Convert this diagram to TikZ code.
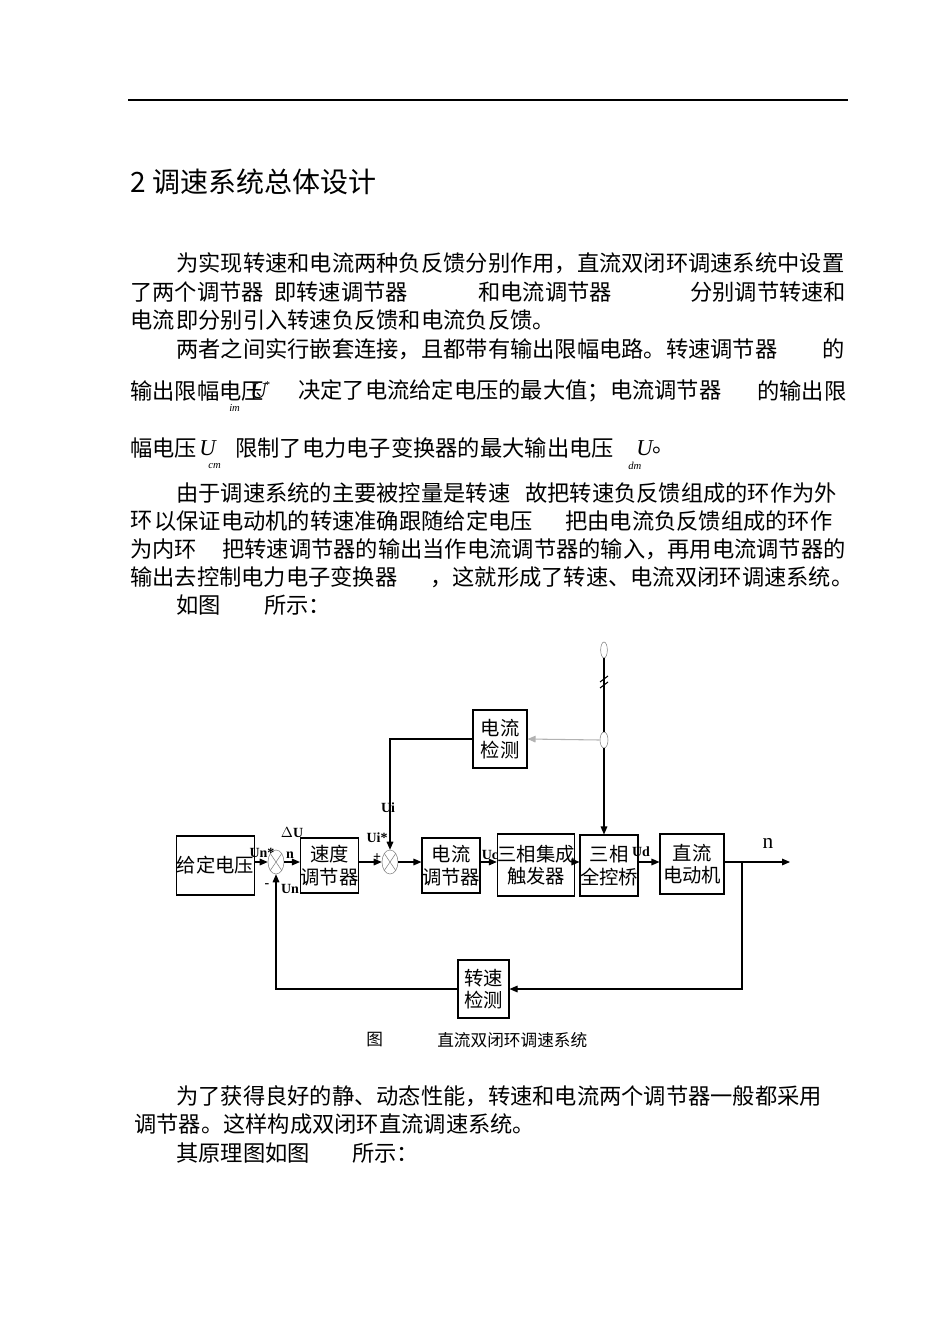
\documentclass[tikz,border=0pt]{standalone}
\usepackage{fontspec}
\setmainfont{Liberation Serif}
\newfontfamily\cjk{Noto Sans CJK SC}
\usetikzlibrary{arrows.meta,shapes.geometric}
\begin{document}
\begin{tikzpicture}[x=0.75pt,y=-0.75pt,
 txt/.style={anchor=west,inner sep=0,font=\cjk\fontsize{16.7}{20}\selectfont},
 sm/.style={anchor=west,inner sep=0,font=\rmfamily\fontsize{8}{9}\selectfont\itshape},
 blk/.style={draw,thick,inner sep=0,font=\cjk\fontsize{14.5}{17}\selectfont,align=center},
 lab/.style={inner sep=0,font=\rmfamily\bfseries\fontsize{10.5}{12}\selectfont},
 sumc/.style={draw,ellipse,minimum width=12pt,minimum height=18pt,inner sep=0,thin,gray},
 arr/.style={-{Triangle[length=6pt,width=5pt]},thick}]
\useasboundingbox (0,0) rectangle (950,1342);
\draw[thick] (128,100) -- (848,100);
\node[anchor=west,inner sep=0,font=\cjk\fontsize{21}{25}\selectfont] (title) at (130,182) {2 调速系统总体设计};
% paragraph 1
\node[txt] (p1a) at (176,263) {为实现转速和电流两种负反馈分别作用，直流双闭环调速系统中设置};
\node[txt] (p1b) at (130,292) {了两个调节器};
\node[txt] (p1c) at (274,292) {即转速调节器};
\node[txt] (p1d) at (478,292) {和电流调节器};
\node[txt] (p1e) at (690,292) {分别调节转速和};
\node[txt] (p1f) at (130,320) {电流};
\node[txt] (p1g) at (176,320) {即分别引入转速负反馈和电流负反馈。};
% paragraph 2
\node[txt] (p2a) at (176,349) {两者之间实行嵌套连接，且都带有输出限幅电路。转速调节器};
\node[txt] (p2b) at (822,349) {的};
\node[txt] (p2c) at (130,391) {输出限幅电压};
\node[anchor=west,inner sep=0,font=\rmfamily\itshape\fontsize{17}{20}\selectfont] (u1) at (250,391) {U};
\node[sm] (u1s) at (264,385) {*};
\node[sm] (u1i) at (229,408) {im};
\node[txt] (p2d) at (298,391) {决定了电流给定电压的最大值；电流调节器};
\node[txt] (p2e) at (757,391) {的输出限};
\node[txt] (p2f) at (130,448) {幅电压};
\node[anchor=west,inner sep=0,font=\rmfamily\itshape\fontsize{17}{20}\selectfont] (u2) at (199,448) {U};
\node[sm] (u2i) at (208,466) {cm};
\node[txt] (p2g) at (235,448) {限制了电力电子变换器的最大输出电压};
\node[anchor=west,inner sep=0,font=\rmfamily\itshape\fontsize{17}{20}\selectfont] (u3) at (636,448) {U};
\node[sm] (u3i) at (628,466) {dm};
\node[txt] (p2h) at (652,450) {。};
% paragraph 3
\node[txt] (p3a) at (176,493) {由于调速系统的主要被控量是转速};
\node[txt] (p3b) at (525,493) {故把转速负反馈组成的环作为外};
\node[txt] (p3c) at (130,521) {环};
\node[txt] (p3d) at (154,521) {以保证电动机的转速准确跟随给定电压};
\node[txt] (p3e) at (565,521) {把由电流负反馈组成的环作};
\node[txt] (p3f) at (130,549) {为内环};
\node[txt] (p3g) at (222,549) {把转速调节器的输出当作电流调节器的输入，再用电流调节器的};
\node[txt] (p3h) at (130,577) {输出去控制电力电子变换器};
\node[txt] (p3i) at (430,577) {，这就形成了转速、电流双闭环调速系统。};
\node[txt] (p3j) at (176,605) {如图};
\node[txt] (p3k) at (264,605) {所示：};
% diagram
\node[blk,minimum width=44.25pt,minimum height=44.25pt] (gd) at (215.5,865.5) {给定电压};
\node[sumc] (s1) at (276,862) {};
\draw[gray,thin] (s1.north west)--(s1.south east) (s1.north east)--(s1.south west);
\node[blk,minimum width=35.25pt,minimum height=41.25pt] (sd) at (329.5,865.5) {速度\\调节器};
\node[sumc] (s2) at (390,862) {};
\draw[gray,thin] (s2.north west)--(s2.south east) (s2.north east)--(s2.south west);
\node[blk,minimum width=28.5pt,minimum height=41.25pt] (dl) at (451,865.5) {电流\\调节器};
\node[blk,minimum width=42pt,minimum height=46.5pt] (cf) at (536,865) {三相集成\\触发器};
\node[blk,minimum width=34.5pt,minimum height=45.75pt] (qk) at (609,865.5) {三相\\全控桥};
\node[blk,minimum width=48pt,minimum height=45pt] (dj) at (692,864) {直流\\电动机};
\node[blk,minimum width=40.5pt,minimum height=43.5pt] (ij) at (500,739) {电流\\检测};
\node[blk,minimum width=38.25pt,minimum height=43.5pt] (nj) at (483.5,989) {转速\\检测};
\coordinate (out) at (790,862);
\coordinate (br) at (742,862);
\node[draw,ellipse,thin,gray,minimum width=5pt,minimum height=12pt,inner sep=0] (tc) at (604,650) {};
\node[draw,ellipse,thin,gray,minimum width=6pt,minimum height=12pt,inner sep=0] (jc) at (604,740) {};
\draw[arr] (gd.east|-s1) -- (s1.west);
\draw[arr] (s1.east) -- (sd.west|-s1);
\draw[arr] (sd.east|-s2) -- (s2.west);
\draw[arr] (s2.east) -- (dl.west|-s2);
\draw[arr] (dl.east|-s2) -- (cf.west|-s2);
\draw[arr] (cf.east|-s2) -- (qk.west|-s2);
\draw[arr] (qk.east|-s2) -- (dj.west|-s2);
\draw[arr] (dj.east|-s2) -- (out);
\draw[arr] (br) |- (nj.east);
\draw[arr] (nj.west) -| (s1.south);
\draw[thick] (tc.south) -- (jc.north);
\draw[arr] (jc.south) -- (jc.south|-qk.north);
\draw[arr,gray!60] (jc.west) -- (ij.east);
\draw[arr] (ij.west) -| (s2.north);
\draw[thick] (600,682)--(608,676) (600,688)--(608,682);
\node[lab] (lui) at (388,808) {Ui};
\node[lab] (luis) at (377,838) {Ui*};
\node[lab] (lp) at (377,858) {+};
\node[lab] (ldu) at (292,833) {$\Delta$U};
\node[lab] (ln) at (290,855) {n};
\node[lab] (luns) at (262,853) {Un*};
\node[lab] (lm) at (267,886) {-};
\node[lab] (lun) at (290,889) {Un};
\node[lab] (luc) at (490,855) {Uc};
\node[lab] (lud) at (641,852) {Ud};
\node[inner sep=0,font=\rmfamily\fontsize{16}{18}\selectfont] (lnn) at (768,843) {n};
\node[anchor=west,inner sep=0,font=\cjk\fontsize{12.5}{15}\selectfont] (cap1) at (366,1040) {图};
\node[anchor=west,inner sep=0,font=\cjk\fontsize{12.5}{15}\selectfont] (cap2) at (437,1040) {直流双闭环调速系统};
% tail
\node[txt] (p4a) at (176,1096) {为了获得良好的静、动态性能，转速和电流两个调节器一般都采用};
\node[txt] (p4b) at (134,1124) {调节器。这样构成双闭环直流调速系统。};
\node[txt] (p4c) at (176,1153) {其原理图如图};
\node[txt] (p4d) at (352,1153) {所示：};
\end{tikzpicture}
\end{document}
